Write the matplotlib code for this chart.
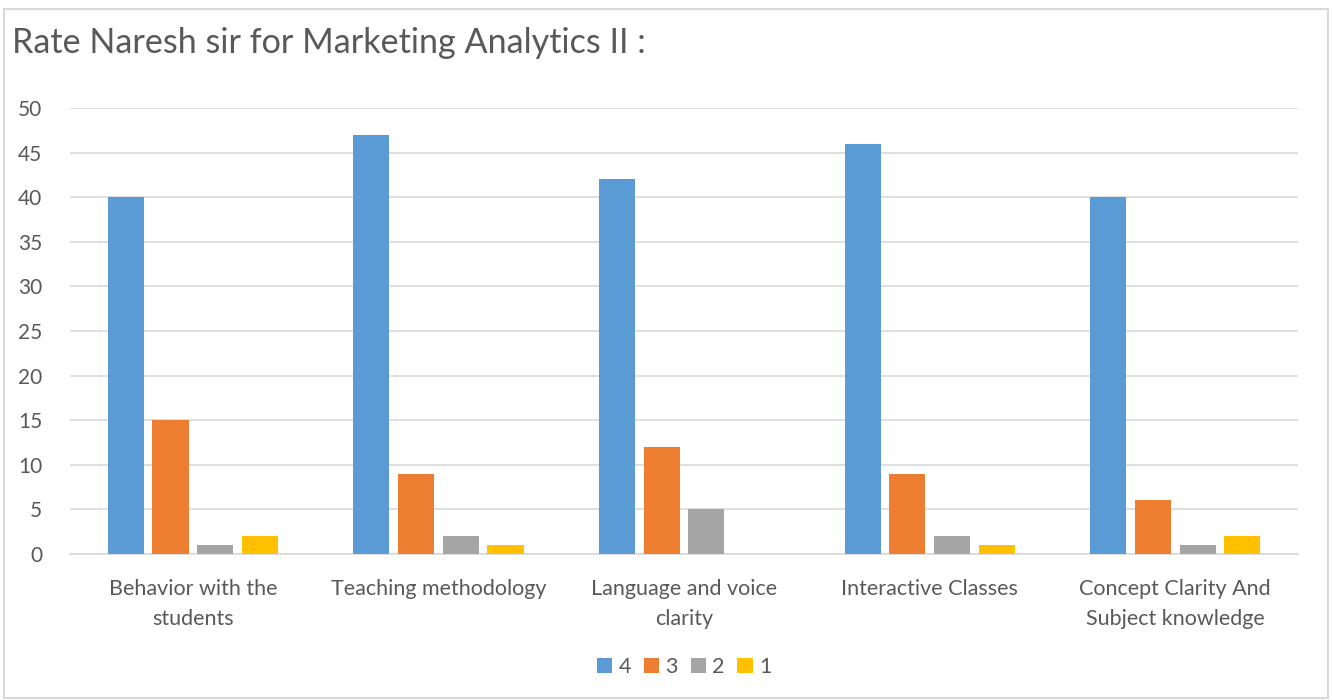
import numpy as np
import matplotlib.pyplot as plt
from matplotlib.patches import Rectangle

# === Data ===
categories = ["Behavior with the\nstudents", "Teaching methodology", "Language and voice\nclarity",
              "Interactive Classes", "Concept Clarity And\nSubject knowledge"]
series_names = ["4", "3", "2", "1"]
rating_4 = [40, 47, 42, 46, 40]
rating_3 = [15, 9, 12, 9, 6]
rating_2 = [1, 2, 5, 2, 1]
rating_1 = [2, 1, 0, 1, 2]
y_ticks = [0, 5, 10, 15, 20, 25, 30, 35, 40, 45, 50]

colors = ["#5B9BD5", "#ED7D31", "#A5A5A5", "#FFC000"]
text_color = "#595959"
plt.rcParams["font.family"] = ["Lato", "DejaVu Sans"]

# === Figure ===
fig = plt.figure(figsize=(13.32, 7), dpi=100)
ax = fig.add_axes([0.0526, 0.2086, 0.9219, 0.6371])

# light frame round the whole chart
fig.patches.append(Rectangle((0.003, 0.003), 0.994, 0.984, transform=fig.transFigure,
                             fill=False, edgecolor="#D9D9D9", linewidth=1.5))

x = np.arange(len(categories))
width = 0.147
step = 0.182
for i, (name, vals) in enumerate(zip(series_names, [rating_4, rating_3, rating_2, rating_1])):
    ax.bar(x + (i - 1.5) * step, vals, width, color=colors[i], label=name, zorder=3)

ax.set_xlim(-0.5, len(categories) - 0.5)
ax.set_ylim(0, 50)
ax.set_yticks(y_ticks)
ax.set_xticks(x)
ax.set_xticklabels(categories, fontsize=15.5, color=text_color, linespacing=1.6)
ax.tick_params(axis="y", labelsize=15, labelcolor=text_color, length=0, pad=20)
ax.tick_params(axis="x", length=0, pad=18)
ax.grid(axis="y", color="#D9D9D9", linewidth=1.2, zorder=0)
for s in ["top", "right", "left"]:
    ax.spines[s].set_visible(False)
ax.spines["bottom"].set_color("#D9D9D9")
ax.spines["bottom"].set_linewidth(1.2)

fig.text(0.009, 0.938, "Rate Naresh sir for Marketing Analytics II :", fontsize=24.6,
         color=text_color, va="center", ha="left")

ax.legend(loc="center", bbox_to_anchor=(0.5, -0.253), ncol=4, frameon=False,
          fontsize=15.5, handlelength=0.7, handleheight=0.7, handletextpad=0.3,
          columnspacing=0.6, labelcolor=text_color)

plt.savefig("out.png", dpi=100)
